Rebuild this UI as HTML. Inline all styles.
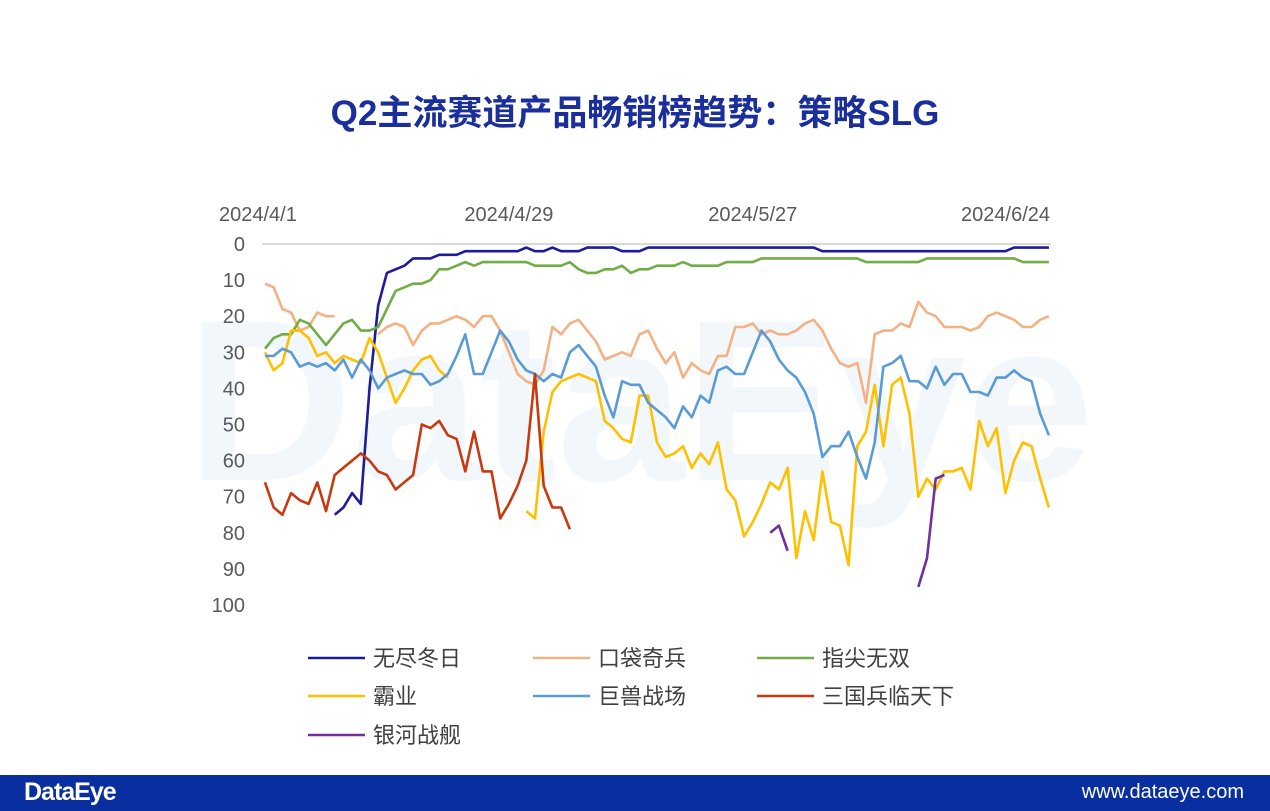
<!DOCTYPE html>
<html><head><meta charset="utf-8">
<style>
body{margin:0;width:1270px;height:811px;background:#fff;position:relative;overflow:hidden;font-family:"Liberation Sans","Noto Sans CJK SC",sans-serif;}
#title{position:absolute;top:85px;left:0;width:1270px;text-align:center;font-size:35px;font-weight:bold;color:#1a2f9c;}
#footer{position:absolute;left:0;top:775px;width:1270px;height:36px;background:#082ea0;}
#logo{position:absolute;left:24px;top:3px;color:#fff;font-size:25px;font-weight:bold;letter-spacing:-1px;}
#url{position:absolute;right:26px;top:6px;color:#fff;font-size:20px;}
svg{position:absolute;left:0;top:0;}
</style></head><body>
<div id="title">Q2主流赛道产品畅销榜趋势：策略SLG</div>
<svg id="chart" width="1270" height="775"></svg>
<div id="footer">
<div id="logo">DataEye</div>
<div id="url">www.dataeye.com</div>
</div>
<script>
const N=null;
const xTickLabels=["2024/4/1","2024/4/29","2024/5/27","2024/6/24"];
const xTickDays=[0,28,56,84];
const yTicks=[0,10,20,30,40,50,60,70,80,90,100];
const seriesNames=["无尽冬日","口袋奇兵","指尖无双","霸业","巨兽战场","三国兵临天下","银河战舰"];
const seriesColors=["#1c1c9c","#f4b183","#70ad47","#ffc000","#5b9bd5","#c9380e","#7030a0"];
const s1=[N,N,N,N,N,N,N,N,75,73,69,72,40,17,8,7,6,4,4,4,3,3,3,2,2,2,2,2,2,2,1,2,2,1,2,2,2,1,1,1,1,2,2,2,1,1,1,1,1,1,1,1,1,1,1,1,1,1,1,1,1,1,1,1,2,2,2,2,2,2,2,2,2,2,2,2,2,2,2,2,2,2,2,2,2,2,1,1,1,1,1];
const s2=[11,12,18,19,24,23,19,20,20,N,N,N,N,25,23,22,23,28,24,22,22,21,20,21,23,20,20,24,30,36,38,39,35,23,25,22,21,24,27,32,31,30,31,25,24,29,33,30,37,33,35,36,31,31,23,23,22,25,24,25,25,24,22,21,24,29,33,34,33,44,25,24,24,22,23,16,19,20,23,23,23,24,23,20,19,20,21,23,23,21,20];
const s3=[29,26,25,25,21,22,25,28,25,22,21,24,24,23,18,13,12,11,11,10,7,7,6,5,6,5,5,5,5,5,5,6,6,6,6,5,7,8,8,7,7,6,8,7,7,6,6,6,5,6,6,6,6,5,5,5,5,4,4,4,4,4,4,4,4,4,4,4,4,5,5,5,5,5,5,5,4,4,4,4,4,4,4,4,4,4,4,5,5,5,5];
const s4=[30,35,33,24,24,26,31,30,33,31,32,33,26,30,37,44,40,35,32,31,35,37,N,N,N,N,N,N,N,N,74,76,52,41,38,37,36,37,38,49,51,54,55,42,42,55,59,58,56,62,58,61,55,68,71,81,77,72,66,68,62,87,74,82,63,77,78,89,56,52,39,56,39,37,47,70,65,68,63,63,62,68,49,56,51,69,60,55,56,65,73];
const s5=[31,31,29,30,34,33,34,33,35,32,37,32,35,40,37,36,35,36,36,39,38,36,31,25,36,36,30,24,27,32,35,36,38,36,37,30,28,31,34,42,48,38,39,39,44,46,48,51,45,48,42,44,35,34,36,36,30,24,27,32,35,37,41,47,59,56,56,52,59,65,55,34,33,31,38,38,40,34,39,36,36,41,41,42,37,37,35,37,38,47,53];
const s6=[66,73,75,69,71,72,66,74,64,62,60,58,60,63,64,68,66,64,50,51,49,53,54,63,52,63,63,76,72,67,60,36,67,73,73,79];
const s7=[N,N,N,N,N,N,N,N,N,N,N,N,N,N,N,N,N,N,N,N,N,N,N,N,N,N,N,N,N,N,N,N,N,N,N,N,N,N,N,N,N,N,N,N,N,N,N,N,N,N,N,N,N,N,N,N,N,N,80,78,85,N,N,N,N,N,N,N,N,N,N,N,N,N,N,95,87,65,64];
const allSeries=[s1,s2,s3,s4,s5,s6,s7];
const svg=document.getElementById('chart');
const NS='http://www.w3.org/2000/svg';
const X0=265,DX=8.71,Y0=244,DY=3.61;
function xs(i){return X0+DX*i;}
function ys(v){return Y0+DY*v;}
function mk(t,a){const e=document.createElementNS(NS,t);for(const k in a)e.setAttribute(k,a[k]);svg.appendChild(e);return e;}
let wm=mk('text',{x:640,y:480,'text-anchor':'middle','font-size':230,'font-weight':'bold',fill:'#f2f7fc','font-family':'Liberation Sans, sans-serif'});
wm.textContent='DataEye';


let gl=mk('line',{x1:262,x2:1051,y1:ys(0),y2:ys(0),stroke:'#d9d9d9','stroke-width':2});


yTicks.forEach(v=>{const t=mk('text',{x:245,y:ys(v)+7,'text-anchor':'end','font-size':20,fill:'#595959'});t.textContent=v;

});
xTickLabels.forEach((l,k)=>{let d=xTickDays[k];let anc=k==0?'start':(k==xTickLabels.length-1?'end':'middle');let x=k==0?219:(k==xTickLabels.length-1?1050:xs(d));
const t=mk('text',{x:x,y:221,'text-anchor':anc,'font-size':20,fill:'#595959'});t.textContent=l;

});
allSeries.forEach((s,si)=>{let d='',pen=false;s.forEach((v,i)=>{if(v===null){pen=false;return;}d+=(pen?'L':'M')+xs(i).toFixed(1)+' '+ys(v).toFixed(1);pen=true;});
const p=mk('path',{d:d,fill:'none',stroke:seriesColors[si],'stroke-width':2.6,'stroke-linejoin':'round'});

});
const lx=[308,533,757],ly=[658,696,735];
seriesNames.forEach((n,k)=>{const x=lx[k%3],y=ly[Math.floor(k/3)];
const g=mk('g',{});


const l=document.createElementNS(NS,'line');l.setAttribute('x1',x);l.setAttribute('x2',x+57);l.setAttribute('y1',y);l.setAttribute('y2',y);l.setAttribute('stroke',seriesColors[k]);l.setAttribute('stroke-width',2.6);g.appendChild(l);
const t=document.createElementNS(NS,'text');t.setAttribute('x',x+65);t.setAttribute('y',y+8);t.setAttribute('font-size',22);t.setAttribute('fill','#404040');t.textContent=n;g.appendChild(t);});
</script>
</body></html>
